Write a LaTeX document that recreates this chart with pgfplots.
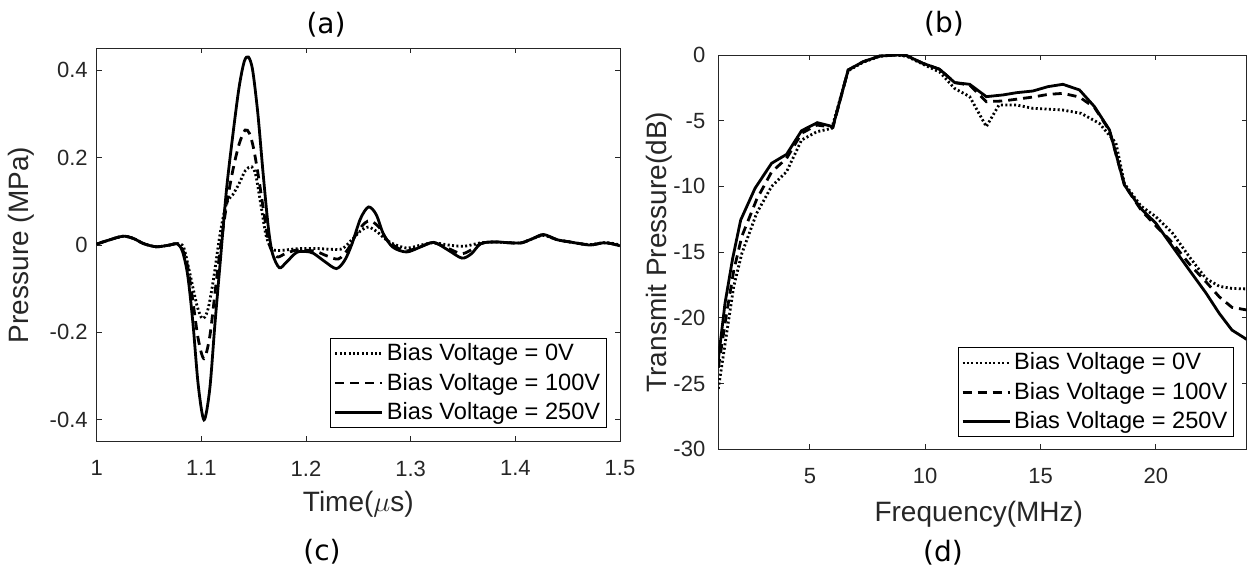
\documentclass[border=0pt]{standalone}
\usepackage{fontspec}
\setmainfont{Liberation Sans}
\newfontfamily\dejavu{DejaVu Sans}
\usepackage{pgfplots}
\pgfplotsset{compat=1.18}
\definecolor{axgray}{RGB}{38,38,38}
\pgfplotsset{
  matstyle/.style={
    scale only axis, anchor=south west,
    tick align=inside, major tick length=2.6pt,
    axis line style={draw=axgray, line width=0.45pt},
    every tick/.style={draw=axgray, line width=0.45pt},
    ticklabel style={font=\fontsize{11}{13}\selectfont, text=axgray},
    xticklabel style={yshift=-6pt},
    label style={font=\fontsize{14}{16}\selectfont, text=axgray},
    xlabel style={anchor=center},
    ylabel style={anchor=center},
    legend cell align=left,
    legend image code/.code={\draw[#1] (0pt,0pt) -- (23.5pt,0pt);},
    legend style={draw=black, line width=0.5pt, fill=white, font=\fontsize{11.8}{14}\selectfont, text=black, anchor=south east,
      inner xsep=1.5pt, inner ysep=1.5pt, row sep=2.6pt,
      nodes={inner xsep=1.6pt, inner ysep=1pt},
      /tikz/every even column/.append style={column sep=0pt},
      /tikz/every odd column/.append style={column sep=0pt}},
  },
  s0/.style={black, line width=1.4pt, dash pattern=on 1pt off 1.2pt},
  s1/.style={black, line width=1.4pt, dash pattern=on 4.5pt off 3pt},
  s2/.style={black, line width=1.4pt, solid},
}
\begin{document}
\begin{tikzpicture}
\path[use as bounding box] (0,0) rectangle (624pt,285.5pt);
% ---------- left panel ----------
\begin{axis}[matstyle, at={(48.35pt,64.65pt)}, width=261.65pt, height=196.7pt,
  xmin=1, xmax=1.5, ymin=-0.45, ymax=0.45,
  xtick={1,1.1,1.2,1.3,1.4,1.5}, xticklabels={1,1.1,1.2,1.3,1.4,1.5},
  ytick={-0.4,-0.2,0,0.2,0.4}, yticklabels={-0.4,-0.2,0,0.2,0.4},
  yticklabel style={xshift=-1pt},
  xlabel={Time($\mu$s)}, ylabel={Pressure (MPa)},
  xlabel style={at={(axis description cs:0.5,-0.160)}},
  ylabel style={at={(axis description cs:-0.1433,0.5)}},
  legend style={at={(axis description cs:0.975,0.035)}},
]
\addplot[s0, smooth] coordinates {
(1.000,0.002)(1.010,0.010)(1.025,0.020)(1.035,0.015)(1.045,0.003)(1.057,-0.004)(1.070,0.000)(1.077,0.003)
(1.083,-0.005)(1.089,-0.065)(1.096,-0.140)(1.101,-0.168)(1.106,-0.150)(1.1115,-0.080)(1.118,0.027)(1.124,0.095)
(1.130,0.115)(1.136,0.140)(1.142,0.170)(1.148,0.179)(1.152,0.160)(1.157,0.090)(1.162,0.020)(1.168,-0.010)
(1.178,-0.012)(1.185,-0.010)(1.195,-0.008)(1.210,-0.008)(1.225,-0.010)(1.235,-0.008)(1.245,0.015)(1.252,0.032)
(1.2597,0.041)(1.268,0.030)(1.275,0.015)(1.282,0.004)(1.296,-0.007)(1.310,0.000)(1.322,0.005)(1.336,0.000)
(1.351,-0.003)(1.367,0.005)(1.380,0.007)(1.395,0.005)(1.406,0.005)(1.417,0.015)(1.427,0.022)(1.440,0.012)
(1.452,0.007)(1.462,0.003)(1.472,0.001)(1.484,0.005)(1.492,0.004)(1.500,0.000)};
\addlegendentry{Bias Voltage = 0V}
\addplot[s1, smooth] coordinates {
(1.000,0.002)(1.010,0.010)(1.025,0.020)(1.035,0.015)(1.045,0.003)(1.057,-0.004)(1.070,0.000)(1.077,0.003)
(1.082,-0.010)(1.087,-0.050)(1.092,-0.130)(1.097,-0.215)(1.1025,-0.260)(1.108,-0.210)(1.113,-0.110)(1.118,-0.010)
(1.124,0.090)(1.130,0.170)(1.136,0.230)(1.1418,0.263)(1.146,0.255)(1.150,0.220)(1.155,0.150)(1.160,0.070)
(1.165,0.000)(1.172,-0.027)(1.180,-0.020)(1.190,-0.012)(1.200,-0.012)(1.210,-0.015)(1.220,-0.025)(1.231,-0.032)
(1.240,-0.010)(1.248,0.025)(1.256,0.050)(1.262,0.055)(1.270,0.040)(1.278,0.010)(1.290,-0.010)(1.298,-0.013)
(1.310,-0.003)(1.322,0.005)(1.336,-0.008)(1.349,-0.020)(1.360,-0.008)(1.367,0.003)(1.380,0.007)(1.395,0.005)
(1.406,0.005)(1.417,0.015)(1.427,0.023)(1.440,0.012)(1.452,0.007)(1.462,0.003)(1.472,0.000)(1.484,0.005)
(1.492,0.003)(1.500,-0.002)};
\addlegendentry{Bias Voltage = 100V}
\addplot[s2, smooth] coordinates {
(1.000,0.002)(1.010,0.010)(1.025,0.020)(1.035,0.015)(1.045,0.003)(1.057,-0.004)(1.070,0.000)(1.077,0.003)
(1.082,-0.015)(1.087,-0.070)(1.092,-0.180)(1.097,-0.320)(1.1025,-0.400)(1.108,-0.330)(1.113,-0.180)(1.118,-0.040)
(1.124,0.126)(1.130,0.250)(1.136,0.360)(1.141,0.420)(1.145,0.430)(1.149,0.400)(1.154,0.300)(1.159,0.164)
(1.164,0.040)(1.168,-0.020)(1.1745,-0.052)(1.181,-0.040)(1.191,-0.017)(1.200,-0.015)(1.207,-0.019)(1.218,-0.038)
(1.229,-0.054)(1.237,-0.035)(1.244,0.003)(1.252,0.060)(1.2597,0.087)(1.267,0.070)(1.274,0.025)(1.283,-0.005)
(1.296,-0.016)(1.309,-0.005)(1.322,0.006)(1.336,-0.012)(1.349,-0.030)(1.358,-0.020)(1.367,0.003)(1.380,0.007)
(1.395,0.005)(1.406,0.005)(1.417,0.015)(1.427,0.024)(1.440,0.012)(1.452,0.007)(1.462,0.003)(1.472,0.000)
(1.484,0.005)(1.492,0.003)(1.500,-0.002)};
\addlegendentry{Bias Voltage = 250V}
\end{axis}
% ---------- right panel ----------
\begin{axis}[matstyle, at={(359.15pt,60.85pt)}, width=264.2pt, height=197.15pt,
  xmin=1.03, xmax=23.94, ymin=-30, ymax=0,
  xtick={5,10,15,20}, xticklabels={5,10,15,20},
  ytick={-30,-25,-20,-15,-10,-5,0}, yticklabels={-30,-25,-20,-15,-10,-5,0},
  yticklabel style={xshift=-3pt},
  xlabel={Frequency(MHz)}, ylabel={Transmit Pressure(dB)},
  xlabel style={at={(axis description cs:0.493,-0.165)}},
  ylabel style={at={(axis description cs:-0.112,0.5)}},
  legend style={at={(axis description cs:0.976,0.031)}},
]
\addplot[s0] coordinates {
(1.03,-25.4)(1.39,-21.2)(1.70,-17.6)(2.05,-15.1)(2.69,-12.05)(3.34,-10.0)(3.99,-8.88)(4.64,-6.47)(5.30,-5.84)(5.95,-5.58)
(6.66,-1.2)(7.31,-0.55)(8.03,-0.1)(8.75,0)(9.20,-0.1)(9.90,-0.7)(10.63,-1.3)(11.28,-2.55)(11.93,-3.17)(12.65,-5.45)
(13.20,-3.8)(13.95,-3.8)(14.67,-4.06)(15.32,-4.12)(15.97,-4.19)(16.76,-4.44)(17.55,-5.2)(18.27,-6.7)(18.64,-9.8)
(19.36,-11.5)(20.00,-12.3)(20.73,-13.57)(21.45,-15.35)(22.17,-17.0)(22.75,-17.6)(23.30,-17.76)(23.94,-17.8)};
\addlegendentry{Bias Voltage = 0V}
\addplot[s1] coordinates {
(1.03,-23.8)(1.39,-19.66)(1.70,-16.4)(2.05,-13.8)(2.69,-11.0)(3.34,-8.9)(3.99,-7.87)(4.64,-5.96)(5.30,-5.33)(6.00,-5.5)
(6.66,-1.14)(7.31,-0.51)(8.03,-0.08)(8.75,0)(9.20,-0.05)(9.90,-0.63)(10.63,-1.09)(11.28,-2.1)(11.93,-2.3)(12.65,-3.55)
(13.37,-3.5)(14.24,-3.3)(14.67,-3.2)(15.32,-3.0)(15.97,-2.92)(16.69,-3.2)(17.34,-4.0)(17.99,-5.75)(18.64,-9.9)
(19.36,-11.8)(20.00,-13.0)(20.73,-14.3)(21.45,-15.9)(22.17,-17.25)(22.75,-18.4)(23.30,-19.2)(23.94,-19.4)};
\addlegendentry{Bias Voltage = 100V}
\addplot[s2] coordinates {
(1.03,-23.2)(1.32,-18.9)(1.65,-15.5)(2.00,-12.56)(2.62,-10.15)(3.34,-8.24)(3.99,-7.56)(4.64,-5.76)(5.32,-5.15)(6.00,-5.45)
(6.66,-1.14)(7.31,-0.51)(8.03,-0.08)(8.75,0)(9.20,-0.05)(9.90,-0.63)(10.63,-1.09)(11.28,-2.1)(11.93,-2.23)(12.65,-3.17)
(13.37,-3.04)(13.95,-2.87)(14.67,-2.74)(15.32,-2.41)(15.97,-2.23)(16.69,-2.66)(17.34,-3.93)(17.99,-5.7)(18.64,-9.9)
(19.36,-11.7)(20.00,-12.8)(20.73,-14.6)(21.45,-16.36)(22.17,-18.1)(22.75,-19.66)(23.30,-20.93)(23.94,-21.64)};
\addlegendentry{Bias Voltage = 250V}
\end{axis}
% ---------- panel tags ----------
\node[font=\dejavu\fontsize{14}{16}\selectfont, text=black] at (163pt,273pt) {(a)};
\node[font=\dejavu\fontsize{14}{16}\selectfont, text=black] at (472pt,273.5pt) {(b)};
\node[font=\dejavu\fontsize{14}{16}\selectfont, text=black] at (161pt,9.6pt) {(c)};
\node[font=\dejavu\fontsize{14}{16}\selectfont, text=black] at (471.5pt,9pt) {(d)};
\end{tikzpicture}
\end{document}
